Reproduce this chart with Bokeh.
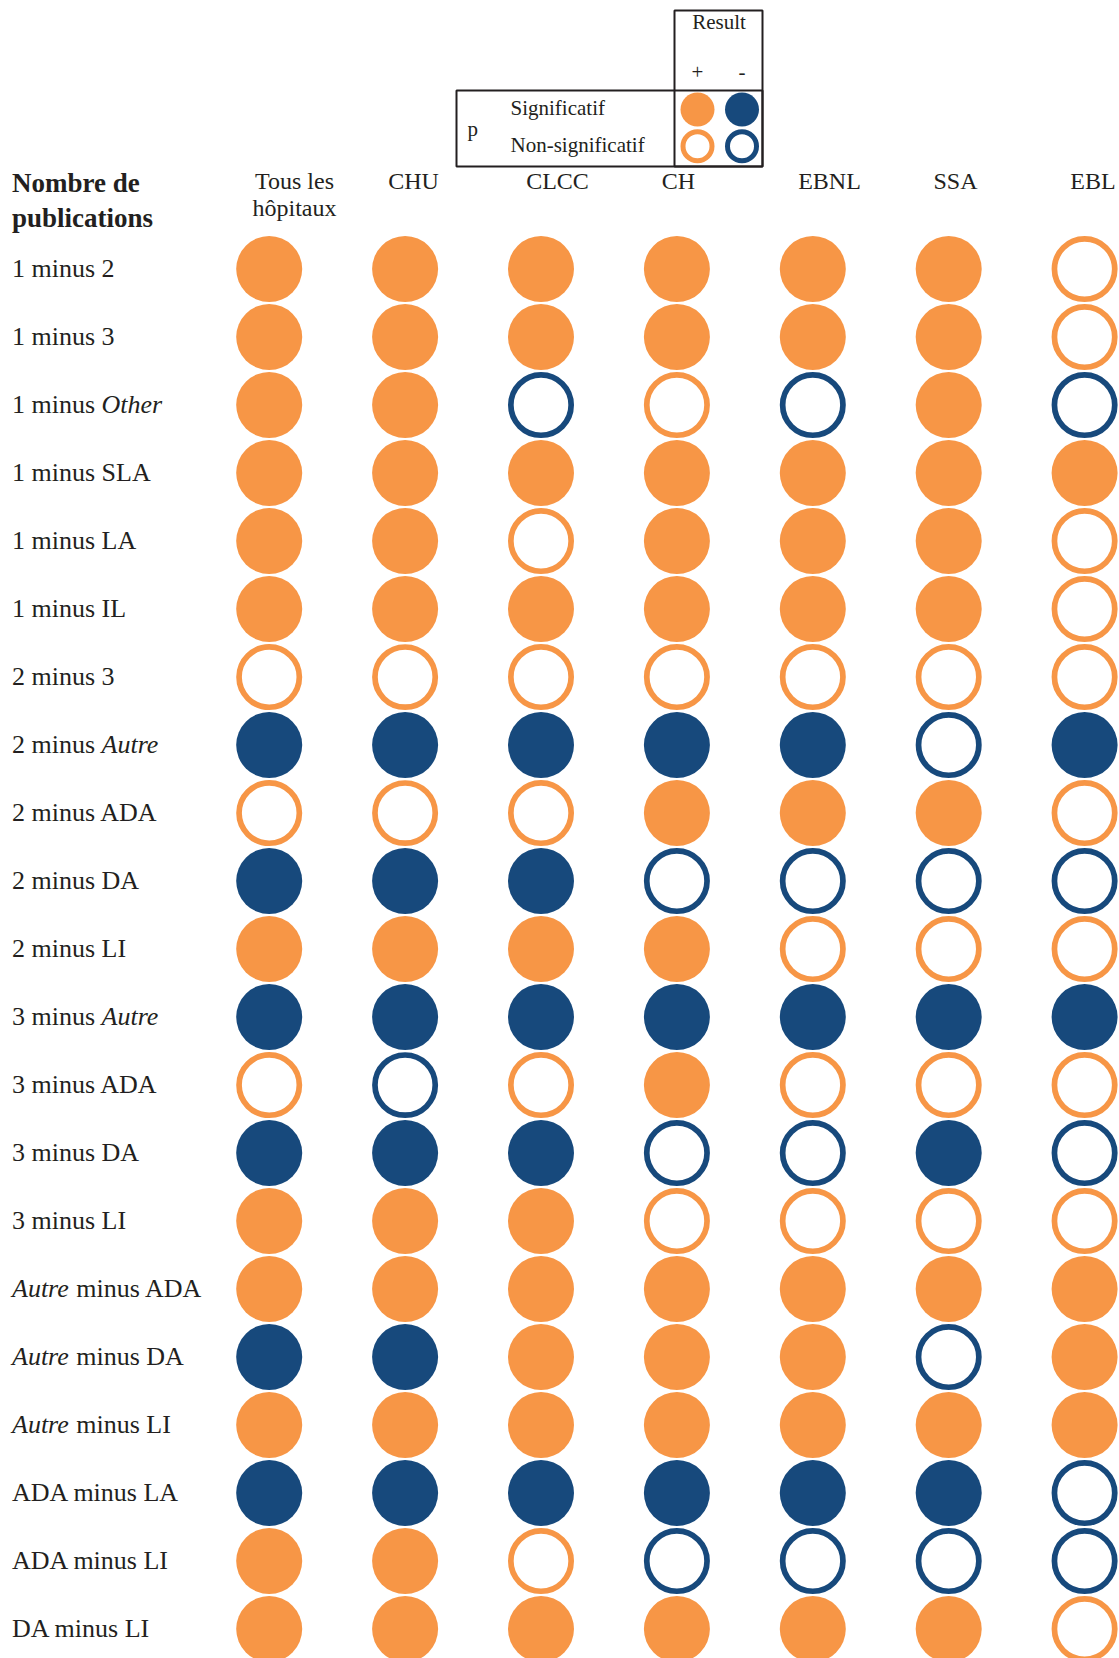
from bokeh.plotting import figure
from bokeh.models import Range1d
from bokeh.core.properties import value
from bokeh.embed import file_html
from bokeh.resources import INLINE

# ---------------- data ----------------
hospitals = ["Tous les\nhôpitaux", "CHU", "CLCC", "CH", "EBNL", "SSA", "EBL"]

comparisons = [
    "1 minus 2", "1 minus 3", "1 minus *Other*", "1 minus SLA", "1 minus LA",
    "1 minus IL", "2 minus 3", "2 minus *Autre*", "2 minus ADA", "2 minus DA",
    "2 minus LI", "3 minus *Autre*", "3 minus ADA", "3 minus DA", "3 minus LI",
    "*Autre* minus ADA", "*Autre* minus DA", "*Autre* minus LI",
    "ADA minus LA", "ADA minus LI", "DA minus LI",
]

# S = significatif, N = non-significatif ; + / - = sign of the result
results = [
    "S+ S+ S+ S+ S+ S+ N+",
    "S+ S+ S+ S+ S+ S+ N+",
    "S+ S+ N- N+ N- S+ N-",
    "S+ S+ S+ S+ S+ S+ S+",
    "S+ S+ N+ S+ S+ S+ N+",
    "S+ S+ S+ S+ S+ S+ N+",
    "N+ N+ N+ N+ N+ N+ N+",
    "S- S- S- S- S- N- S-",
    "N+ N+ N+ S+ S+ S+ N+",
    "S- S- S- N- N- N- N-",
    "S+ S+ S+ S+ N+ N+ N+",
    "S- S- S- S- S- S- S-",
    "N+ N- N+ S+ N+ N+ N+",
    "S- S- S- N- N- S- N-",
    "S+ S+ S+ N+ N+ N+ N+",
    "S+ S+ S+ S+ S+ S+ S+",
    "S- S- S+ S+ S+ N- S+",
    "S+ S+ S+ S+ S+ S+ S+",
    "S- S- S- S- S- S- N-",
    "S+ S+ N+ N- N- N- N-",
    "S+ S+ S+ S+ S+ S+ N+",
]

row_title = ["Nombre de", "publications"]
legend_title = "Result"
legend_signs = ["+", "-"]
legend_rows = ["Significatif", "Non-significatif"]
legend_var = "p"

# ---------------- style / layout ----------------
ORANGE = "#F79646"
BLUE = "#17497C"
INK = "#231F20"
FONT = "Liberation Serif"

W, H = 1119, 1658          # figure size
OFF = 0                    # page offset of the figure
X0, DX = 268.7, 135.9      # pixel position of column 0 and column spacing
Y0, DY = 268.6, 68.0       # pixel position of row 0 and row spacing
BFIX = 0.4                 # baseline correction (fraction of font size)


def px_x(p):
    return (p - X0) / DX


def px_y(p):
    return (p - Y0) / DY


def base(ypx, fs):
    return px_y(ypx - BFIX * fs)


p = figure(width=W, height=H, output_backend="svg", toolbar_location=None,
           x_range=Range1d(px_x(OFF), px_x(OFF + W)),
           y_range=Range1d(px_y(OFF + H), px_y(OFF)),
           x_axis_location=None, y_axis_location=None,
           min_border=0, outline_line_color=None,
           background_fill_color="white", border_fill_color="white")
p.grid.visible = False

# ---------------- circles ----------------
groups = {"S+": ([], []), "S-": ([], []), "N+": ([], []), "N-": ([], [])}
for r, line in enumerate(results):
    for c, code in enumerate(line.split()):
        groups[code][0].append(c)
        groups[code][1].append(r)

D = 66.0       # circle diameter in px
RW = 5.7       # ring width
p.scatter(groups["S+"][0], groups["S+"][1], marker="circle", size=D,
          fill_color=ORANGE, line_color=None)
p.scatter(groups["S-"][0], groups["S-"][1], marker="circle", size=D,
          fill_color=BLUE, line_color=None)
p.scatter(groups["N+"][0], groups["N+"][1], marker="circle", size=D - RW,
          fill_color="white", line_color=ORANGE, line_width=RW)
p.scatter(groups["N-"][0], groups["N-"][1], marker="circle", size=D - RW,
          fill_color="white", line_color=BLUE, line_width=RW)

# ---------------- row labels (mixed roman / italic) ----------------
ROW_FS = 26
REG = {"1": 500, "2": 500, "3": 500, " ": 250, "m": 778, "i": 278, "n": 500,
       "u": 500, "s": 389, "A": 722, "D": 722, "L": 611, "I": 333, "S": 556,
       "O": 722, "t": 278, "h": 500, "e": 444, "r": 333}
ITA = {"A": 611, "u": 500, "t": 278, "r": 389, "e": 444, "O": 722, "h": 500,
       " ": 250}


def width(txt, italic):
    tbl = ITA if italic else REG
    return sum(tbl.get(ch, 500) for ch in txt) * ROW_FS / 1000.0


seg_x, seg_y, seg_t, seg_it = [], [], [], []
for r, lab in enumerate(comparisons):
    parts = lab.split("*")
    xpx = 11.5
    for k, part in enumerate(parts):
        if part == "":
            continue
        italic = (k % 2 == 1)
        lead = len(part) - len(part.lstrip(" "))
        xpx_txt = xpx + width(part[:lead], italic)
        seg_x.append(px_x(xpx_txt))
        seg_y.append(r)
        seg_t.append(part.strip(" "))
        seg_it.append("italic" if italic else "normal")
        xpx += width(part, italic)

p.text(x=seg_x, y=seg_y, text=seg_t, text_font=value(FONT),
       text_font_size=f"{ROW_FS}px", text_font_style=seg_it,
       text_color=INK, text_align="left", text_baseline="alphabetic",
       y_offset=9.4 - BFIX * ROW_FS)

# row title (bold)
p.text(x=[px_x(11.5)] * 2, y=[base(193.0, 27), base(228.5, 27)], text=row_title,
       text_font=value(FONT), text_font_size="27px", text_font_style="bold",
       text_color=INK, text_align="left", text_baseline="alphabetic")

# ---------------- column headers ----------------
head_px = [294.0, 413.0, 557.0, 678.0, 829.0, 955.0, 1092.5]
hx, hy, ht = [], [], []
for name, cx in zip(hospitals, head_px):
    for li, t in enumerate(name.split("\n")):
        hx.append(px_x(cx))
        hy.append(base(189.8 + li * 27.5, 24))
        ht.append(t)
p.text(x=hx, y=hy, text=ht, text_font=value(FONT), text_font_size="24px",
       text_color=INK, text_align="center", text_baseline="alphabetic")

# ---------------- legend ----------------
LX1, LX2 = 697.0, 741.5
LY1, LY2 = 109.0, 145.7
p.quad(left=[px_x(674), px_x(456)], right=[px_x(762), px_x(762)],
       top=[px_y(10), px_y(90)], bottom=[px_y(166), px_y(166)],
       fill_color=None, line_color=INK, line_width=2)
p.text(x=[px_x(718.5)], y=[base(30, 21)], text=[legend_title], text_font=value(FONT),
       text_font_size="21px", text_color=INK, text_align="center",
       text_baseline="alphabetic")
p.text(x=[px_x(LX1), px_x(LX2)], y=[base(80, 21)] * 2, text=legend_signs,
       text_font=value(FONT), text_font_size="21px", text_color=INK,
       text_align="center", text_baseline="alphabetic")
p.text(x=[px_x(510)] * 2, y=[base(115.7, 21), base(153.3, 21)], text=legend_rows,
       text_font=value(FONT), text_font_size="21px", text_color=INK,
       text_align="left", text_baseline="alphabetic")
p.text(x=[px_x(467)], y=[base(136.5, 21)], text=[legend_var], text_font=value(FONT),
       text_font_size="21px", text_color=INK, text_align="left",
       text_baseline="alphabetic")
LD = 34.0
LRW = 5.0
p.scatter([px_x(LX1)], [px_y(LY1)], marker="circle", size=LD,
          fill_color=ORANGE, line_color=None)
p.scatter([px_x(LX2)], [px_y(LY1)], marker="circle", size=LD,
          fill_color=BLUE, line_color=None)
p.scatter([px_x(LX1)], [px_y(LY2)], marker="circle", size=LD - LRW,
          fill_color="white", line_color=ORANGE, line_width=LRW)
p.scatter([px_x(LX2)], [px_y(LY2)], marker="circle", size=LD - LRW,
          fill_color="white", line_color=BLUE, line_width=LRW)

open("out.html", "w").write(file_html(p, INLINE))
